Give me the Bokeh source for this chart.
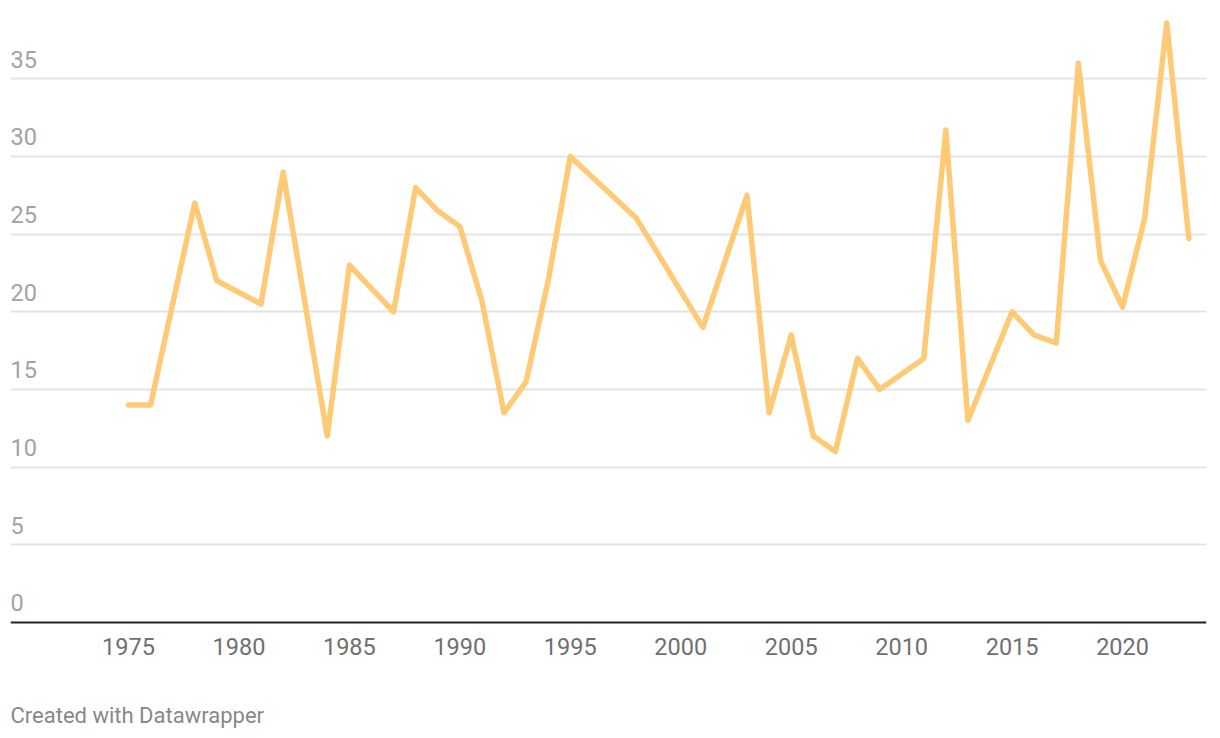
from bokeh.plotting import figure
from bokeh.models import Range1d, FixedTicker, Label, Span, ColumnDataSource
from bokeh.core.properties import value
from bokeh.embed import file_html
from bokeh.resources import INLINE

years = [1975, 1976, 1978, 1979, 1981, 1982, 1984, 1985, 1987, 1988, 1989, 1990,
         1991, 1992, 1993, 1994, 1995, 1998, 2001, 2003, 2004, 2005, 2006, 2007,
         2008, 2009, 2011, 2012, 2013, 2015, 2016, 2017, 2018, 2019, 2020, 2021,
         2022, 2023]
values = [14, 14, 27, 22, 20.5, 29, 12, 23, 20, 28, 26.5, 25.5,
          20.7, 13.5, 15.5, 22, 30, 26, 19, 27.5, 13.5, 18.5, 12, 11,
          17, 15, 17, 31.7, 13, 20, 18.5, 18, 36, 23.3, 20.3, 26,
          38.6, 24.7]
y_ticks = [0, 5, 10, 15, 20, 25, 30, 35]
x_ticks = [1975, 1980, 1985, 1990, 1995, 2000, 2005, 2010, 2015, 2020]
footer = "Created with Datawrapper"

FONT = "Roboto"

p = figure(width=1220, height=738, output_backend="svg", toolbar_location=None,
           x_range=Range1d(1969.66, 2023.8), y_range=Range1d(-7.474, 39.4),
           min_border_left=10, min_border_right=14, min_border_top=10,
           min_border_bottom=0)
p.outline_line_color = None
p.background_fill_color = "white"
p.border_fill_color = "white"
p.xaxis.visible = False
p.yaxis.visible = False

# grid
p.xgrid.grid_line_color = None
p.ygrid.ticker = FixedTicker(ticks=y_ticks[1:])
p.ygrid.grid_line_color = "#e4e4e4"
p.ygrid.grid_line_width = 2

# baseline at zero
p.add_layout(Span(location=0, dimension="width", line_color="#222222",
                  line_width=2))

# x tick labels under baseline
xl = ColumnDataSource(dict(x=x_ticks, y=[0] * len(x_ticks),
                           t=[str(v) for v in x_ticks]))
p.text(x="x", y="y", text="t", source=xl, text_font=value(FONT),
       text_font_size="23.5px", text_color="#707070", text_baseline="top",
       text_align="center", y_offset=16)

# y tick labels above gridlines
lab = ColumnDataSource(dict(x=[p.x_range.start] * len(y_ticks), y=y_ticks,
                            t=[str(v) for v in y_ticks]))
p.text(x="x", y="y", text="t", source=lab, text_font=value(FONT),
       text_font_size="23.5px", text_color="#a3a3a3", text_baseline="bottom",
       text_align="left", y_offset=-11)

p.line(years, values, line_color="#ffca76", line_width=5.5,
       line_join="round", line_cap="round")

p.add_layout(Label(x=0, y=23, x_units="screen", y_units="screen",
                   text=footer, text_font=FONT, text_font_size="22px",
                   text_color="#888888", text_baseline="alphabetic",
                   text_align="left"))

open("out.html", "w").write(file_html(p, INLINE))
